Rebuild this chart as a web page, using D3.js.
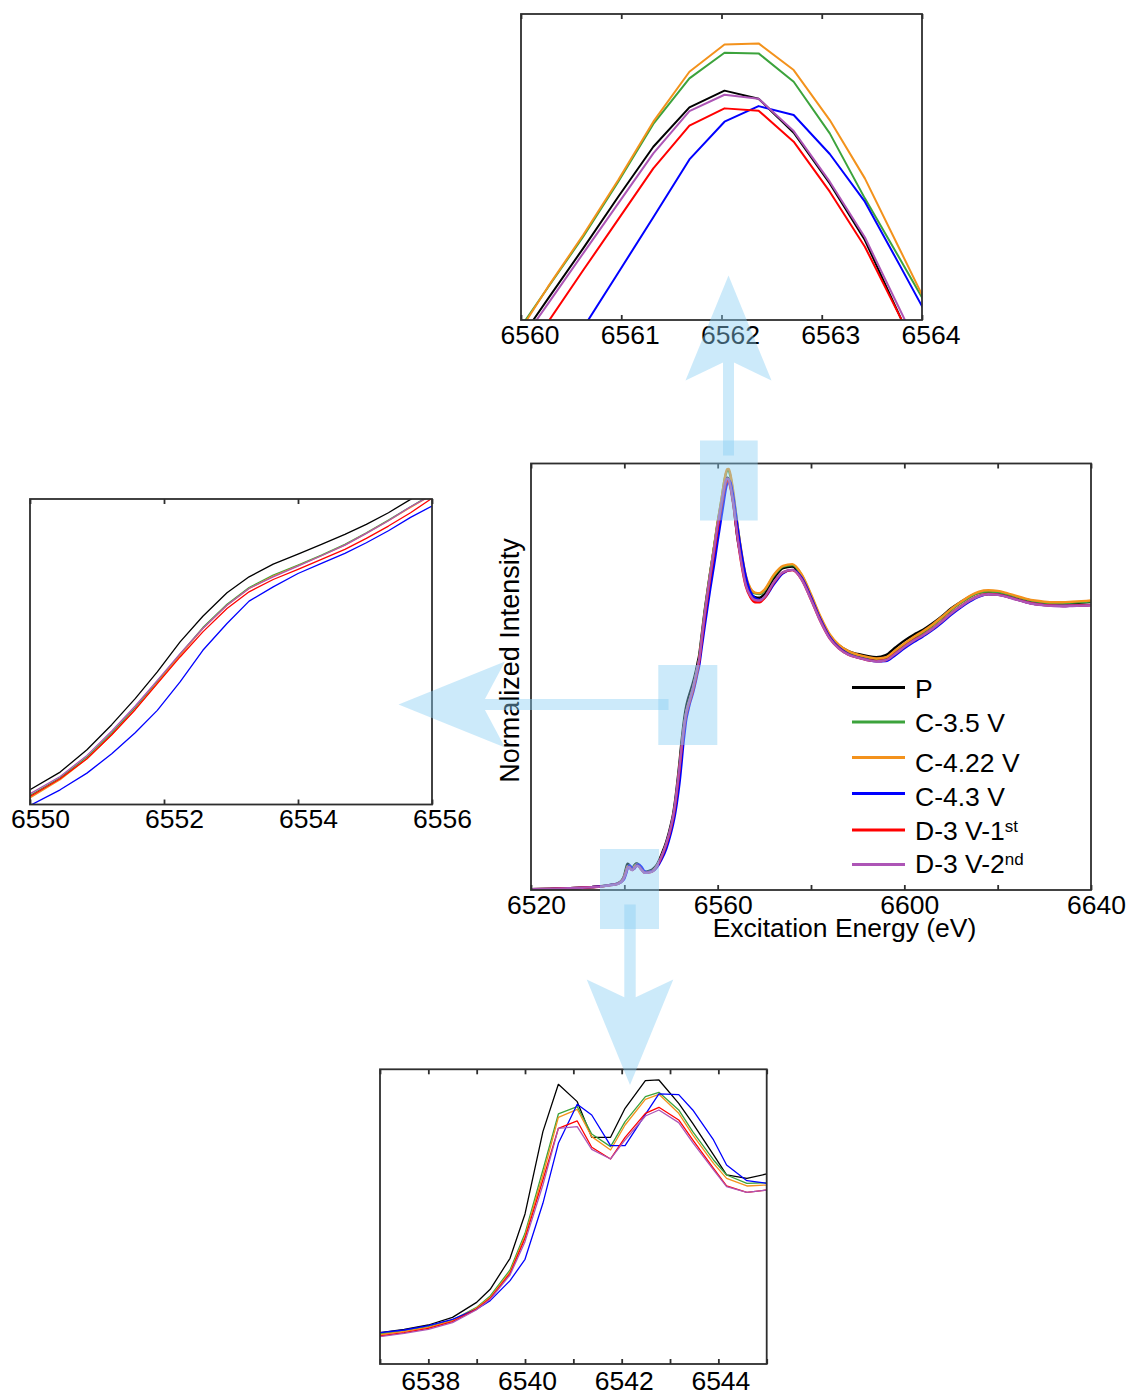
<!DOCTYPE html>
<html>
<head>
<meta charset="utf-8">
<script src="https://cdn.jsdelivr.net/npm/d3@7"></script>
<style>
  body { margin: 0; background: #fff; }
  svg { display: block; }
  text { font-family: "Liberation Sans", Arial, Helvetica, sans-serif; fill: #000; }
</style>
</head>
<body>
<svg id="chart" width="1128" height="1395"></svg>
<script>
// ---- Excitation energy grid (eV), shared by every spectrum ----
const energy = [
  6520, 6524, 6528, 6531, 6533, 6535, 6536,
  6537, 6537.5, 6538, 6538.5, 6538.99, 6539.28, 6539.69, 6540, 6540.37, 6540.69, 6541.08,
  6541.38, 6541.77, 6542.07, 6542.49, 6542.77, 6543.18, 6543.47, 6543.9, 6544.17, 6544.59, 6545,
  6546, 6547, 6548, 6549,
  6550, 6550.45, 6550.85, 6551.22, 6551.57, 6551.9, 6552.24, 6552.58, 6552.94, 6553.27,
  6553.63, 6554, 6554.35, 6554.7, 6555.02, 6555.35, 6555.68, 6556,
  6556.6, 6557.2, 6557.8, 6558.4, 6559, 6559.5,
  6559.93, 6560.27, 6560.62, 6560.97, 6561.32, 6561.68, 6562.03, 6562.37, 6562.72, 6563.08,
  6563.43, 6563.78, 6564.13,
  6565, 6566, 6567, 6568, 6569, 6570, 6572, 6574, 6576, 6578, 6580, 6582, 6584, 6586, 6588,
  6590, 6592, 6594, 6596, 6598, 6600, 6602, 6604, 6606, 6608, 6610, 6612, 6614, 6616, 6618,
  6620, 6622, 6624, 6626, 6628, 6630, 6632, 6634, 6636, 6638, 6640
];

// ---- Normalized intensity of each sample ----
const intensityP = [
  0.003, 0.004, 0.006, 0.008, 0.010, 0.013, 0.0155,
  0.0180, 0.0190, 0.0203, 0.0226, 0.0270, 0.0310, 0.0403, 0.0536, 0.0783, 0.0925, 0.0873,
  0.0766, 0.0766, 0.0853, 0.0936, 0.0938, 0.0868, 0.0808, 0.0713, 0.0653, 0.0643, 0.0656,
  0.072, 0.090, 0.126, 0.170,
  0.2323, 0.2668, 0.3103, 0.3591, 0.4098, 0.4618, 0.5203, 0.5703, 0.6158, 0.6470,
  0.6717, 0.6912, 0.7101, 0.7296, 0.7491, 0.7718, 0.7978, 0.8225,
  0.900, 0.980, 1.050, 1.118, 1.180, 1.234,
  1.2799, 1.3125, 1.3457, 1.3798, 1.4128, 1.4388, 1.4498, 1.4445, 1.4220, 1.3886,
  1.3512, 1.3008, 1.2500,
  1.170, 1.085, 1.045, 1.030, 1.028, 1.040, 1.095, 1.132, 1.138, 1.100, 1.030, 0.955, 0.895, 0.860, 0.840,
  0.830, 0.823, 0.819, 0.826, 0.852, 0.877, 0.898, 0.915, 0.937, 0.962, 0.990, 1.012, 1.032, 1.046, 1.050,
  1.048, 1.040, 1.030, 1.022, 1.015, 1.011, 1.009, 1.008, 1.009, 1.011, 1.013
];

const intensityC35 = [
  0.003, 0.004, 0.006, 0.008, 0.010, 0.013, 0.015,
  0.0176, 0.0186, 0.0198, 0.0218, 0.0255, 0.0290, 0.0368, 0.0478, 0.0668, 0.0836, 0.0858,
  0.0776, 0.0738, 0.0813, 0.0888, 0.0901, 0.0848, 0.0783, 0.0698, 0.0653, 0.0628, 0.0630,
  0.068, 0.086, 0.119, 0.162,
  0.2213, 0.2557, 0.2960, 0.3428, 0.3922, 0.4423, 0.4962, 0.5482, 0.5937, 0.6262,
  0.6503, 0.6698, 0.6893, 0.7101, 0.7328, 0.7575, 0.7835, 0.8082,
  0.888, 0.970, 1.043, 1.114, 1.180, 1.238,
  1.2872, 1.3200, 1.3534, 1.3897, 1.4278, 1.4579, 1.4748, 1.4744, 1.4557, 1.4216,
  1.3787, 1.3387, 1.2982,
  1.192, 1.102, 1.058, 1.043, 1.041, 1.053, 1.104, 1.137, 1.143, 1.107, 1.036, 0.958, 0.896, 0.858, 0.836,
  0.825, 0.817, 0.811, 0.815, 0.838, 0.863, 0.886, 0.906, 0.929, 0.956, 0.984, 1.008, 1.030, 1.045, 1.050,
  1.048, 1.040, 1.031, 1.022, 1.015, 1.011, 1.009, 1.009, 1.011, 1.013, 1.015
];

const intensityC422 = [
  0.003, 0.004, 0.006, 0.008, 0.010, 0.013, 0.015,
  0.0174, 0.0184, 0.0196, 0.0216, 0.0253, 0.0286, 0.0362, 0.0470, 0.0653, 0.0826, 0.0850,
  0.0768, 0.0728, 0.0803, 0.0880, 0.0895, 0.0838, 0.0773, 0.0688, 0.0643, 0.0620, 0.0623,
  0.067, 0.085, 0.117, 0.159,
  0.2167, 0.2518, 0.2928, 0.3396, 0.3890, 0.4403, 0.4943, 0.5463, 0.5918, 0.6243,
  0.6483, 0.6685, 0.6880, 0.7088, 0.7315, 0.7562, 0.7822, 0.8063,
  0.886, 0.968, 1.041, 1.112, 1.178, 1.236,
  1.2852, 1.3204, 1.3545, 1.3908, 1.4293, 1.4623, 1.4803, 1.4810, 1.4634, 1.4304,
  1.3919, 1.3448, 1.2975,
  1.200, 1.108, 1.062, 1.046, 1.044, 1.056, 1.108, 1.140, 1.146, 1.110, 1.040, 0.963, 0.900, 0.862, 0.840,
  0.828, 0.820, 0.814, 0.818, 0.842, 0.867, 0.890, 0.910, 0.933, 0.960, 0.988, 1.012, 1.034, 1.049, 1.054,
  1.052, 1.044, 1.034, 1.025, 1.018, 1.014, 1.012, 1.012, 1.014, 1.016, 1.018
];

const intensityC43 = [
  0.003, 0.004, 0.006, 0.008, 0.010, 0.013, 0.0155,
  0.0180, 0.0188, 0.0201, 0.0220, 0.0250, 0.0276, 0.0336, 0.0400, 0.0568, 0.0748, 0.0865,
  0.0833, 0.0741, 0.0741, 0.0835, 0.0896, 0.0894, 0.0848, 0.0758, 0.0683, 0.0636, 0.0628,
  0.066, 0.080, 0.108, 0.146,
  0.2018, 0.2323, 0.2648, 0.3025, 0.3435, 0.3870, 0.4423, 0.5040, 0.5560, 0.5996,
  0.6275, 0.6535, 0.6730, 0.6925, 0.7133, 0.7367, 0.7627, 0.7848,
  0.855, 0.925, 0.992, 1.058, 1.120, 1.172,
  1.2210, 1.2564, 1.2931, 1.3296, 1.3662, 1.4044, 1.4293, 1.4396, 1.4337, 1.4080,
  1.3765, 1.3343, 1.2916,
  1.195, 1.105, 1.050, 1.026, 1.020, 1.027, 1.074, 1.114, 1.126, 1.098, 1.030, 0.953, 0.890, 0.852, 0.830,
  0.818, 0.810, 0.804, 0.805, 0.825, 0.850, 0.872, 0.892, 0.914, 0.940, 0.968, 0.993, 1.015, 1.032, 1.040,
  1.039, 1.032, 1.022, 1.013, 1.006, 1.002, 1.000, 0.999, 1.000, 1.001, 1.002
];

const intensityD1 = [
  0.003, 0.004, 0.006, 0.008, 0.010, 0.012, 0.0145,
  0.0170, 0.0180, 0.0193, 0.0213, 0.0250, 0.0283, 0.0358, 0.0463, 0.0638, 0.0793, 0.0815,
  0.0736, 0.0701, 0.0766, 0.0838, 0.0856, 0.0818, 0.0758, 0.0673, 0.0620, 0.0601, 0.0608,
  0.065, 0.084, 0.117, 0.160,
  0.2193, 0.2538, 0.2928, 0.3396, 0.3883, 0.4390, 0.4910, 0.5398, 0.5853, 0.6178,
  0.6418, 0.6613, 0.6808, 0.7003, 0.7218, 0.7458, 0.7718, 0.7998,
  0.878, 0.957, 1.028, 1.097, 1.160, 1.215,
  1.2643, 1.2971, 1.3312, 1.3648, 1.3985, 1.4267, 1.4381, 1.4366, 1.4161, 1.3831,
  1.3468, 1.3006, 1.2540,
  1.155, 1.070, 1.030, 1.012, 1.012, 1.026, 1.080, 1.117, 1.125, 1.092, 1.022, 0.946, 0.885, 0.849, 0.828,
  0.817, 0.809, 0.805, 0.809, 0.831, 0.856, 0.878, 0.897, 0.919, 0.945, 0.973, 0.997, 1.019, 1.035, 1.041,
  1.039, 1.032, 1.022, 1.013, 1.006, 1.002, 1.000, 0.999, 1.000, 1.001, 1.002
];

const intensityD2 = [
  0.003, 0.004, 0.006, 0.008, 0.010, 0.012, 0.0145,
  0.0168, 0.0178, 0.0190, 0.0210, 0.0248, 0.0280, 0.0353, 0.0453, 0.0623, 0.0793, 0.0798,
  0.0730, 0.0701, 0.0758, 0.0830, 0.0848, 0.0810, 0.0750, 0.0668, 0.0618, 0.0601, 0.0608,
  0.065, 0.085, 0.119, 0.164,
  0.2245, 0.2583, 0.2993, 0.3467, 0.3955, 0.4455, 0.4975, 0.5463, 0.5918, 0.6243,
  0.6470, 0.6678, 0.6880, 0.7088, 0.7315, 0.7562, 0.7835, 0.8063,
  0.886, 0.967, 1.039, 1.109, 1.172, 1.228,
  1.2771, 1.3092, 1.3424, 1.3754, 1.4084, 1.4363, 1.4471, 1.4445, 1.4231, 1.3897,
  1.3530, 1.3052, 1.2570,
  1.160, 1.075, 1.035, 1.020, 1.018, 1.030, 1.082, 1.118, 1.126, 1.092, 1.022, 0.946, 0.885, 0.849, 0.828,
  0.817, 0.809, 0.804, 0.808, 0.830, 0.855, 0.877, 0.896, 0.918, 0.944, 0.972, 0.996, 1.018, 1.034, 1.040,
  1.038, 1.031, 1.021, 1.012, 1.005, 1.001, 0.999, 0.998, 0.999, 1.000, 1.001
];

// ---- Series names (main text + superscript) and colours ----
const seriesLabels = [["P", ""], ["C-3.5 V", ""], ["C-4.22 V", ""], ["C-4.3 V", ""], ["D-3 V-1", "st"], ["D-3 V-2", "nd"]];
const seriesColors = ["#000000", "#3ca33c", "#f3921c", "#0000ff", "#ff0000", "#ad55b6"];
const seriesValues = [intensityP, intensityC35, intensityC422, intensityC43, intensityD1, intensityD2];

// ---- Axis ticks / labels per panel ----
const mainTicks = [6520, 6540, 6560, 6580, 6600, 6620, 6640];
const mainTickLabels = [6520, 6560, 6600, 6640];
const peakTicks = [6560, 6561, 6562, 6563, 6564];
const edgeTicks = [6550, 6552, 6554, 6556];
const preEdgeTicks = [6537, 6538, 6539, 6540, 6541, 6542, 6543, 6544, 6545];
const preEdgeTickLabels = [6538, 6540, 6542, 6544];

const series = seriesValues.map((vals, i) => ({
  label: seriesLabels[i],
  color: seriesColors[i],
  points: energy.map((e, j) => ({ e, v: vals[j] })).filter(p => p.v !== undefined)
}));

const svg = d3.select("#chart");
const FRAME = "#2e2e2e";
const TICK_FONT = 26.5;

// Panel geometry: main spectrum plus three magnified windows
const panels = [
  { id: "main", x0: 531, x1: 1091, y0: 463.5, y1: 890, xd: [6520, 6640], yd: [0, 1.5],
    ticks: mainTicks, labels: mainTickLabels, pad: 4.7, dx: 5, lw: 2.4, curve: d3.curveMonotoneX },
  { id: "peak", x0: 521, x1: 922, y0: 14, y1: 320, xd: [6560, 6564], yd: [1.2984, 1.5004],
    ticks: peakTicks, labels: peakTicks, pad: 5.2, dx: 8.5, lw: 2, curve: d3.curveLinear },
  { id: "edge", x0: 30, x1: 432, y0: 499, y1: 804.5, xd: [6550, 6556], yd: [0.2037, 0.7985],
    ticks: edgeTicks, labels: edgeTicks, pad: 5, dx: 10, lw: 1.3, curve: d3.curveLinear },
  { id: "pre", x0: 380, x1: 766.7, y0: 1069.3, y1: 1364, xd: [6537, 6545], yd: [0.0086, 0.097],
    ticks: preEdgeTicks, labels: preEdgeTickLabels, pad: 7, dx: 2, lw: 1.3, curve: d3.curveLinear }
];

const defs = svg.append("defs");

panels.forEach(p => {
  const x = d3.scaleLinear().domain(p.xd).range([p.x0, p.x1]);
  const y = d3.scaleLinear().domain(p.yd).range([p.y1, p.y0]);
  const g = svg.append("g").attr("class", "panel-" + p.id);

  defs.append("clipPath").attr("id", "clip-" + p.id)
    .append("rect").attr("x", p.x0).attr("y", p.y0)
    .attr("width", p.x1 - p.x0).attr("height", p.y1 - p.y0);

  const line = d3.line().x(d => x(d.e)).y(d => y(d.v)).curve(p.curve);
  g.append("g").attr("clip-path", `url(#clip-${p.id})`)
    .selectAll("path").data(series).join("path")
    .attr("d", s => line(s.points))
    .attr("fill", "none")
    .attr("stroke", s => s.color)
    .attr("stroke-width", p.lw)
    .attr("stroke-linejoin", "round");

  const labelSet = new Set(p.labels);
  const bottom = d3.axisBottom(x).tickValues(p.ticks)
    .tickSizeInner(-5).tickSizeOuter(0).tickPadding(p.pad)
    .tickFormat(d => labelSet.has(d) ? d3.format("d")(d) : "");
  const top = d3.axisTop(x).tickValues(p.ticks)
    .tickSizeInner(-5).tickSizeOuter(0).tickFormat("");

  const gb = g.append("g").attr("transform", `translate(0,${p.y1})`).call(bottom);
  const gt = g.append("g").attr("transform", `translate(0,${p.y0})`).call(top);
  [gb, gt].forEach(a => {
    a.select(".domain").remove();
    a.selectAll(".tick line").attr("stroke", FRAME).attr("stroke-width", 1.8);
    a.selectAll(".tick text").attr("font-size", TICK_FONT).attr("dx", p.dx)
      .attr("font-family", '"Liberation Sans", Arial, sans-serif').attr("fill", "#000");
  });

  g.append("rect").attr("x", p.x0).attr("y", p.y0)
    .attr("width", p.x1 - p.x0).attr("height", p.y1 - p.y0)
    .attr("fill", "none").attr("stroke", FRAME).attr("stroke-width", 1.8);
});

// Axis titles of the main spectrum
svg.append("text").attr("x", 844.5).attr("y", 937).attr("text-anchor", "middle")
  .attr("font-size", 26.5).text("Excitation Energy (eV)");
svg.append("text").attr("transform", "translate(519,660.5) rotate(-90)")
  .attr("text-anchor", "middle").attr("font-size", 27).text("Normalized Intensity");

// Legend
const legendLineY = [687.5, 722, 757.5, 793.5, 830, 864.5];
const legendTextY = [697.5, 731.5, 771.5, 806, 839.5, 872.5];
const legend = svg.append("g").attr("class", "legend");
series.forEach((s, i) => {
  legend.append("line").attr("x1", 852).attr("x2", 905)
    .attr("y1", legendLineY[i]).attr("y2", legendLineY[i])
    .attr("stroke", s.color).attr("stroke-width", 3);
  const t = legend.append("text").attr("x", 915).attr("y", legendTextY[i]).attr("font-size", 26.5);
  t.append("tspan").text(s.label[0]);
  if (s.label[1]) {
    t.append("tspan").attr("font-size", 17).attr("dy", -8).text(s.label[1]);
  }
});

// Highlight boxes and notched arrows pointing to the magnified windows
const HL_FILL = "#88cef3", HL_OPACITY = 0.43;
const boxes = [[700, 440.5, 57.7, 80], [658.3, 665, 59, 80], [600, 849, 59, 80]];
const overlay = svg.append("g").attr("class", "highlights");
boxes.forEach(b => {
  overlay.append("rect").attr("x", b[0]).attr("y", b[1]).attr("width", b[2]).attr("height", b[3])
    .attr("fill", HL_FILL).attr("fill-opacity", HL_OPACITY);
});

function notchedArrow(tail, tip, shaftW, headLen, headHalf, notchLen) {
  const dx = tip[0] - tail[0], dy = tip[1] - tail[1];
  const L = Math.hypot(dx, dy);
  const ux = dx / L, uy = dy / L, px = -uy, py = ux;
  const base = [tip[0] - ux * headLen, tip[1] - uy * headLen];
  const notch = [tip[0] - ux * notchLen, tip[1] - uy * notchLen];
  const barbL = [base[0] + px * headHalf, base[1] + py * headHalf];
  const barbR = [base[0] - px * headHalf, base[1] - py * headHalf];
  const t = 1 - (shaftW / 2) / headHalf;
  const jL = [barbL[0] + t * (notch[0] - barbL[0]), barbL[1] + t * (notch[1] - barbL[1])];
  const jR = [barbR[0] + t * (notch[0] - barbR[0]), barbR[1] + t * (notch[1] - barbR[1])];
  const tL = [tail[0] + px * shaftW / 2, tail[1] + py * shaftW / 2];
  const tR = [tail[0] - px * shaftW / 2, tail[1] - py * shaftW / 2];
  return [tip, barbL, jL, tL, tR, jR, barbR];
}

const arrows = [
  notchedArrow([728.5, 455.5], [728.5, 275.5], 11, 105, 43, 84.5),
  notchedArrow([668.5, 704.5], [398.5, 704.5], 11, 106.5, 43, 83.5),
  notchedArrow([630, 904.5], [630, 1085], 11.4, 105.5, 43.3, 85)
];
overlay.selectAll("path.arrow").data(arrows).join("path")
  .attr("class", "arrow")
  .attr("d", pts => d3.line()(pts) + "Z")
  .attr("fill", HL_FILL).attr("fill-opacity", HL_OPACITY);
</script>
</body>
</html>
